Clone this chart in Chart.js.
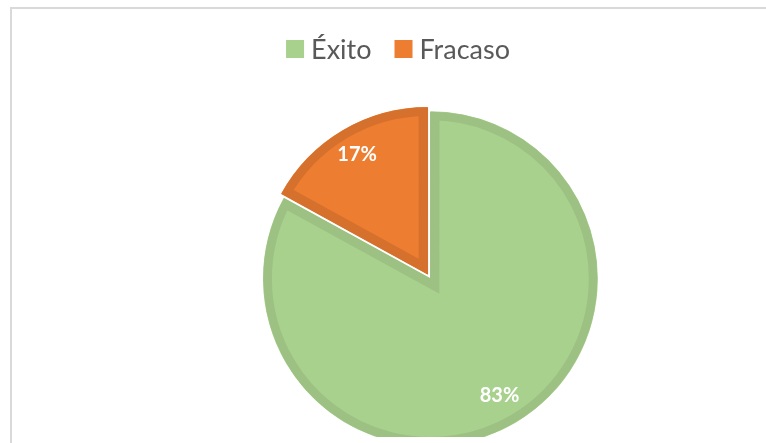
<!DOCTYPE html>
<html>

<head>
  <meta charset="utf-8">
  <title>Éxito / Fracaso</title>
  <script src="https://cdn.jsdelivr.net/npm/chart.js"></script>
  <style>
    body { margin: 0; background: #fff; }
    #frame { position: absolute; left: 10px; top: 7px; right: 0; bottom: 0; border-left: 2px solid #d9d9d9; border-top: 2px solid #d9d9d9; }
    #clip { position: absolute; left: 0; top: 0; width: 766px; height: 437px; overflow: hidden; }
  </style>
</head>

<body>
  <div id="frame"></div>
  <div id="clip">
    <canvas id="pieChart" width="766" height="443"></canvas>
  </div>
  <script>
    // datos
    var labels = ['Éxito', 'Fracaso'];
    var values = [83, 17];
    var pctLabels = ['83%', '17%'];

    var fillColors = ['#a9d18e', '#ed7d31'];
    var edgeColors = ['#9dc183', '#d5712c'];

    // leyenda y etiquetas dibujadas a mano
    var labelPlugin = {
      id: 'labelPlugin',
      afterDraw: function (chart) {
        var ctx = chart.ctx;
        var meta = chart.getDatasetMeta(0);
        ctx.save();

        // etiquetas de porcentaje
        ctx.font = 'bold 20px Lato';
        ctx.fillStyle = '#ffffff';
        ctx.textAlign = 'center';
        ctx.textBaseline = 'middle';
        meta.data.forEach(function (arc, i) {
          var p = arc.getProps(['x', 'y', 'startAngle', 'endAngle', 'outerRadius'], true);
          var mid = (p.startAngle + p.endAngle) / 2;
          var off = arc.options.offset || 0;
          var d = off + p.outerRadius * (i === 0 ? 0.8 : 0.75);
          ctx.fillText(pctLabels[i], p.x + Math.cos(mid) * d, p.y + Math.sin(mid) * d);
        });

        // leyenda
        ctx.font = '27px Lato';
        ctx.textAlign = 'left';
        var box = 18, gapBox = 7, gapItem = 23;
        var total = 0;
        labels.forEach(function (l, i) {
          total += box + gapBox + ctx.measureText(l).width + (i > 0 ? gapItem : 0);
        });
        var x = 398 - total / 2, y = 49;
        labels.forEach(function (l, i) {
          ctx.fillStyle = fillColors[i];
          ctx.fillRect(x, y - box / 2, box, box);
          ctx.fillStyle = '#595959';
          ctx.fillText(l, x + box + gapBox, y + 1);
          x += box + gapBox + ctx.measureText(l).width + gapItem;
        });
        ctx.restore();
      }
    };

    var ctx = document.getElementById('pieChart').getContext('2d');
    var chart = new Chart(ctx, {
      type: 'pie',
      data: {
        labels: labels,
        datasets: [{
          data: values,
          backgroundColor: fillColors,
          borderColor: edgeColors,
          borderWidth: 9,
          borderAlign: 'inner',
          borderJoinStyle: 'miter',
          offset: [3, 18],
          radius: 167,
          clip: false
        }]
      },
      options: {
        responsive: false,
        animation: false,
        layout: {
          padding: { left: 94, right: 0, top: 113, bottom: 0 }
        },
        plugins: {
          legend: { display: false },
          tooltip: { enabled: false }
        }
      },
      plugins: [labelPlugin]
    });
  </script>
</body>

</html>
